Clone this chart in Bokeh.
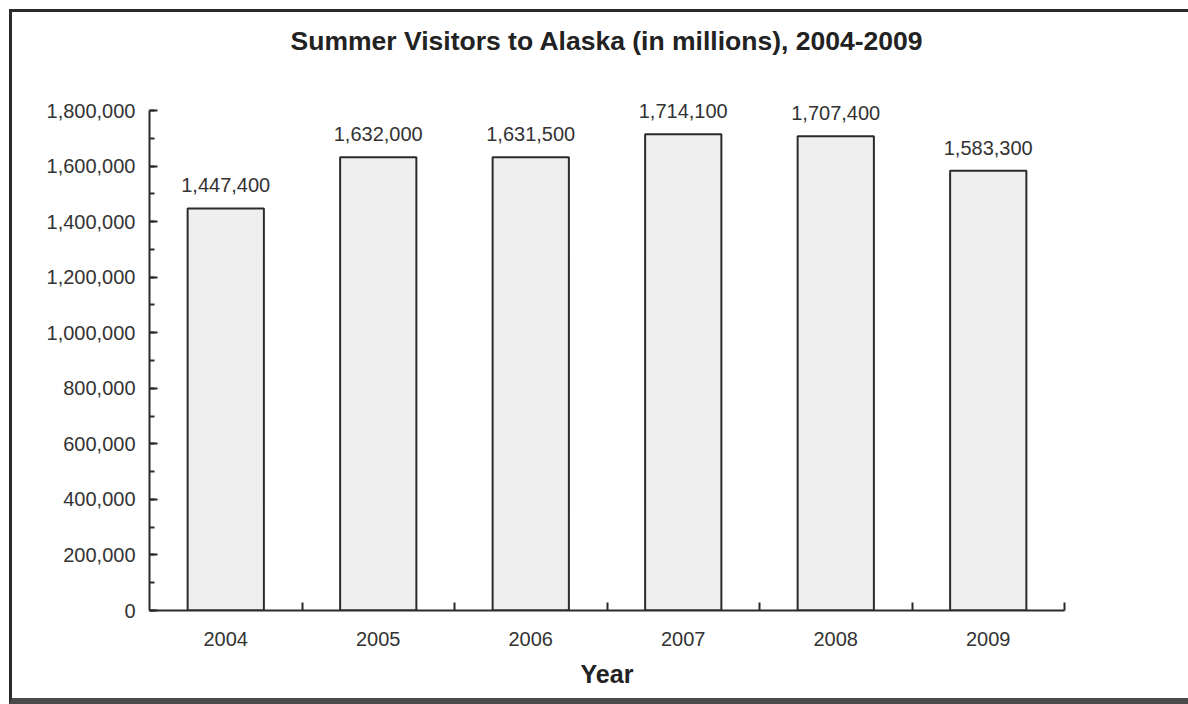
from bokeh.plotting import figure
from bokeh.models import (Range1d, LinearAxis, FixedTicker, SingleIntervalTicker,
                          NumeralTickFormatter, ColumnDataSource, LabelSet)
from bokeh.core.properties import value
from bokeh.embed import file_html
from bokeh.resources import INLINE

# ---- data ----
years = ["2004", "2005", "2006", "2007", "2008", "2009"]
visitors = [1447400, 1632000, 1631500, 1714100, 1707400, 1583300]
title_text = "Summer Visitors to Alaska (in millions), 2004-2009"
x_title = "Year"
y_axis_max = 1800000

FONT = "Liberation Sans"
DARK = "#2b2b2b"

xs = [i + 0.5 for i in range(len(years))]
src = ColumnDataSource(dict(x=xs, visitors=visitors, year=years,
                            label=[f"{v:,}" for v in visitors]))

p = figure(width=1179, height=695, output_backend="svg", toolbar_location=None,
           x_range=Range1d(0, len(years)), y_range=Range1d(0, 1980000),
           x_axis_type=None, y_axis_type=None,
           min_border_left=137, min_border_right=127,
           min_border_top=48, min_border_bottom=97)
p.styles = {"margin-left": "9px", "margin-top": "9px",
            "border-left": "3px solid #2a2a2a", "border-top": "3px solid #2a2a2a",
            "border-bottom": "6px solid #4a4a4a"}
p.outline_line_color = None
p.background_fill_color = "white"
p.border_fill_color = "white"

# title
p.title.text = title_text
p.title.align = "center"
p.title.text_font = FONT
p.title.text_font_size = "26.5px"
p.title.text_font_style = "bold"
p.title.text_color = "#222222"

# bars
p.vbar(x="x", top="visitors", width=0.5, source=src,
       fill_color="#efefef", line_color=DARK, line_width=2)

labels = LabelSet(x="x", y="visitors", text="label", source=src,
                  y_offset=16, text_align="center", text_baseline="alphabetic",
                  text_font=value(FONT),
                  text_font_size="20px", text_color="#333333")
p.add_layout(labels)

# x axis: labels at category centres, ticks at category boundaries
xaxis = LinearAxis(
    ticker=FixedTicker(ticks=xs, minor_ticks=[i + 1 for i in range(len(years))]),
    major_label_overrides={x: y for x, y in zip(xs, years)},
    axis_label=x_title)
xaxis.major_tick_in = 0
xaxis.major_tick_out = 0
xaxis.minor_tick_in = 8
xaxis.minor_tick_out = 0
xaxis.minor_tick_line_color = DARK
xaxis.minor_tick_line_width = 2
xaxis.axis_line_color = DARK
xaxis.axis_line_width = 2
xaxis.major_label_standoff = 21
xaxis.major_label_text_font = FONT
xaxis.major_label_text_font_size = "20px"
xaxis.major_label_text_color = "#333333"
xaxis.axis_label_standoff = 11
xaxis.axis_label_text_font = FONT
xaxis.axis_label_text_font_size = "25px"
xaxis.axis_label_text_font_style = "bold"
xaxis.axis_label_text_color = "#222222"
p.add_layout(xaxis, "below")

# y axis
yaxis = LinearAxis(ticker=SingleIntervalTicker(interval=200000, num_minor_ticks=2),
                   formatter=NumeralTickFormatter(format="0,0"),
                   bounds=(0, y_axis_max))
yaxis.major_tick_in = 8
yaxis.major_tick_out = 0
yaxis.minor_tick_in = 5
yaxis.minor_tick_out = 0
yaxis.major_tick_line_color = DARK
yaxis.minor_tick_line_color = DARK
yaxis.major_tick_line_width = 2
yaxis.minor_tick_line_width = 2
yaxis.axis_line_color = DARK
yaxis.axis_line_width = 2
yaxis.major_label_standoff = 14
yaxis.major_label_text_font = FONT
yaxis.major_label_text_font_size = "20px"
yaxis.major_label_text_color = "#333333"
p.add_layout(yaxis, "left")

p.xgrid.visible = False
p.ygrid.visible = False

open("out.html", "w").write(file_html(p, INLINE))
